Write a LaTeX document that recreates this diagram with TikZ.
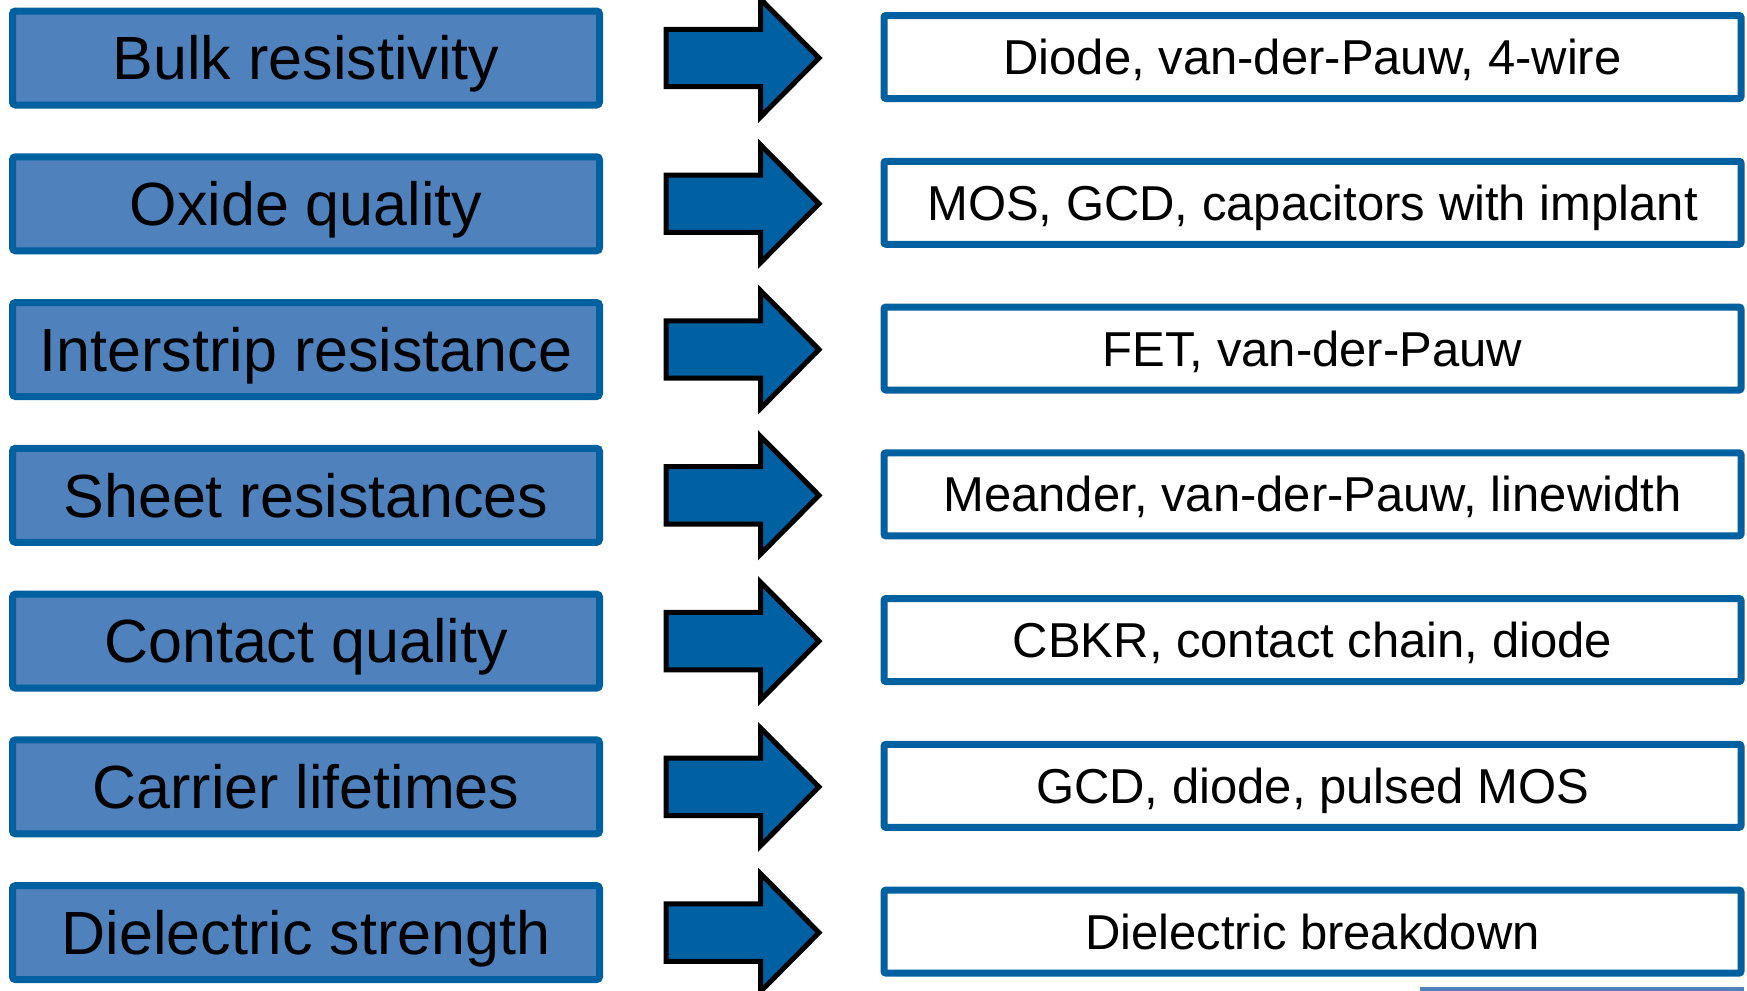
\documentclass[tikz,border=0pt]{standalone}
\usepackage{fontspec}
\setmainfont{Liberation Sans}
\definecolor{propfill}{HTML}{4F81BD}
\definecolor{propline}{HTML}{0060A0}
\definecolor{arrowfill}{HTML}{0061A2}
\begin{document}
\begin{tikzpicture}[x=0.5pt,y=-0.5pt,
  prop/.style={draw=propline, fill=propfill, line width=3.5pt, rounded corners=1.5pt,
    minimum width=293.5pt, minimum height=47pt, inner sep=0pt,
    text height=21.8pt, text depth=0pt, font=\fontsize{30.5}{36}\selectfont},
  method/.style={draw=propline, fill=white, line width=3.5pt, rounded corners=1pt,
    minimum width=428.5pt, minimum height=41.5pt, inner sep=0pt,
    text height=17.5pt, text depth=0pt, font=\fontsize{24.5}{29}\selectfont},
  blockarrow/.style={draw=black, fill=arrowfill, line width=2.5pt, line join=miter}]
\useasboundingbox (0,0) rectangle (1747,991);
\foreach \i/\a/\b in {
  0/{Bulk resistivity}/{Diode, van-der-Pauw, 4-wire},
  1/{Oxide quality}/{MOS, GCD, capacitors with implant},
  2/{Interstrip resistance}/{FET, van-der-Pauw},
  3/{Sheet resistances}/{Meander, van-der-Pauw, linewidth},
  4/{Contact quality}/{CBKR, contact chain, diode},
  5/{Carrier lifetimes}/{GCD, diode, pulsed MOS},
  6/{Dielectric strength}/{Dielectric breakdown}} {
  \pgfmathsetmacro\cy{58+145.77*\i}
  % property box, block arrow, measurement structures
  \node[prop] (p\i) at (306,\cy) {\a};
  \draw[blockarrow] (666,\cy-28.7) -- (760.5,\cy-28.7) -- (760.5,\cy-59)
    -- (819,\cy) -- (760.5,\cy+59) -- (760.5,\cy+28.7) -- (666,\cy+28.7) -- cycle;
  \node[method] (m\i) at (1312.5,\cy-1) {\b};
}
% thin rule under the last box
\draw[propfill, line width=2pt] (1420,989) -- (1744,989);
\end{tikzpicture}
\end{document}
